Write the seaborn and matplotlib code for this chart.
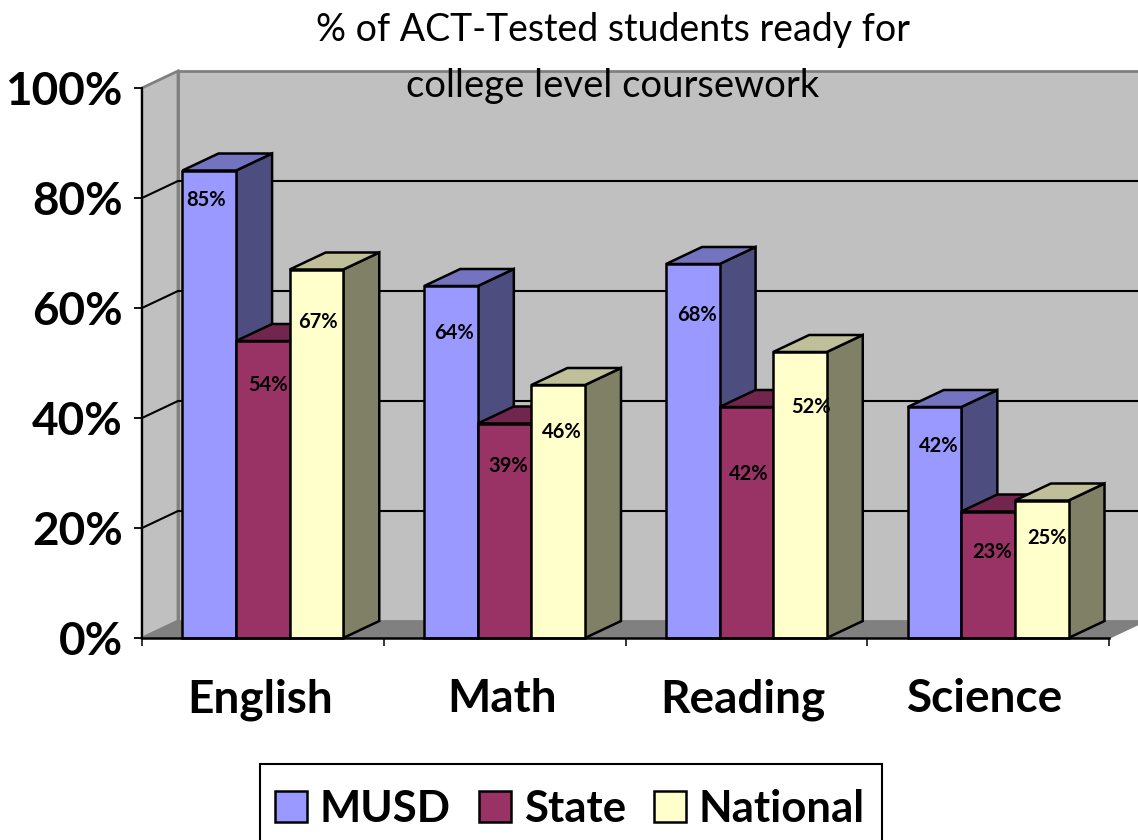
import matplotlib
matplotlib.use('Agg')
import matplotlib.pyplot as plt
from matplotlib.colors import to_rgb
from matplotlib.patches import Polygon, Rectangle
from matplotlib.transforms import ScaledTranslation
import pandas as pd
import seaborn as sns

subjects = ['English', 'Math', 'Reading', 'Science']
musd = [85, 64, 68, 42]
state = [54, 39, 42, 23]
national = [67, 46, 52, 25]
colors = ['#9999FF', '#993366', '#FFFFCC']
# label placement in pixels from the bar's top centre (row per series)
label_drop = {'MUSD': [30, 47, 51, 39], 'State': [44, 43, 67, 41], 'National': [52, 47, 55, 38]}
label_shift = {'MUSD': [-3, 3, 4, 4], 'State': [5, 4, 2, 4], 'National': [1, 4, 11, 5]}

W, H = 1138, 840
sns.set_theme(style='white')
plt.rcParams['font.family'] = ['Lato', 'DejaVu Sans']

df = pd.DataFrame({'subject': subjects, 'MUSD': musd, 'State': state, 'National': national})
df = df.melt(id_vars='subject', var_name='group', value_name='score')

fig = plt.figure(figsize=(W / 100, H / 100), dpi=100)
ax = fig.add_axes([142 / W, 1 - 638 / H, 967 / W, 550 / H])
sns.barplot(data=df, x='subject', y='score', hue='group', palette=colors, saturation=1,
            width=0.665, gap=0, edgecolor='black', linewidth=1.8, ax=ax, zorder=3)
handles, labels = ax.get_legend_handles_labels()
bars = [b for cont in ax.containers for b in cont]
ax.set_xlim(-0.5, 3.5)
ax.set_ylim(0, 100)
ax.set_xlabel('')
ax.set_ylabel('')
ax.set_facecolor('none')

# 3d depth of the Excel chart, converted to data units
dx = 36 / (967 / 4)
dy = 17 / 5.5
x0, x1 = ax.get_xlim()
grey = '#C0C0C0'
line = '#808080'

# walls and floor
ax.add_patch(Polygon([(x0 + dx, dy), (x1 + dx, dy), (x1 + dx, 100 + dy), (x0 + dx, 100 + dy)],
                     fc=grey, ec=line, lw=2, zorder=0, clip_on=False))
ax.add_patch(Polygon([(x0, 0), (x0 + dx, dy), (x0 + dx, 100 + dy), (x0, 100)],
                     fc=grey, ec=line, lw=2, zorder=0, clip_on=False))
ax.add_patch(Polygon([(x0, 0), (x1, 0), (x1 + dx, dy), (x0 + dx, dy)],
                     fc='#808080', ec='none', zorder=1, clip_on=False))
for v in [20, 40, 60, 80]:
    ax.plot([x0, x0 + dx, x1 + dx], [v, v + dy, v + dy], color='black', lw=1.5, zorder=1, clip_on=False)
ax.plot([x1, x1 + dx], [0, dy], color=line, lw=1.3, zorder=1, clip_on=False)


def shade(c, f):
    return tuple(v * f for v in to_rgb(c))


# side and top faces for every bar, left to right so nearer bars cover
for k, b in enumerate(sorted(bars, key=lambda p: p.get_x())):
    l, w, h = b.get_x(), b.get_width(), b.get_height()
    z = 3 + k * 0.1
    c = b.get_facecolor()
    b.set_zorder(z + 0.02)
    b.set_clip_on(False)
    ax.add_patch(Polygon([(l + w, 0), (l + w + dx, dy), (l + w + dx, h + dy), (l + w, h)],
                         fc=shade(c[:3], 0.5), ec='black', lw=1.8, zorder=z, clip_on=False))
    ax.add_patch(Polygon([(l, h), (l + dx, h + dy), (l + w + dx, h + dy), (l + w, h)],
                         fc=shade(c[:3], 0.75), ec='black', lw=1.8, zorder=z + 0.01, clip_on=False))

# value labels
for g, name in enumerate(['MUSD', 'State', 'National']):
    vals = [musd, state, national][g]
    for i, v in enumerate(vals):
        xpos = i + (g - 1) * 0.665 / 3
        ax.annotate(f'{v}%', (xpos, v), xytext=(label_shift[name][i] * 0.72, -label_drop[name][i] * 0.72),
                    textcoords='offset points', ha='center', va='center', fontsize=14.5, fontweight='bold',
                    color='black', zorder=10)

ax.set_yticks([0, 20, 40, 60, 80, 100], ['0%', '20%', '40%', '60%', '80%', '100%'])
ax.set_xticks([-0.5, 0.5, 1.5, 2.5, 3.5], [''] * 5)
ax.set_xticks(range(4), subjects, minor=True)
ax.tick_params(axis='y', which='major', left=True, length=6, width=1.3, color='black', pad=8,
               labelsize=33, labelcolor='black')
ax.tick_params(axis='x', which='major', bottom=True, length=6, width=1.1, color='black')
ax.tick_params(axis='x', which='minor', bottom=False, length=0, pad=29, labelsize=33, labelcolor='black')
for t in ax.get_yticklabels():
    t.set_fontweight('bold')
    t.set_verticalalignment('center_baseline')
for t in ax.get_xticklabels(minor=True):
    t.set_fontweight('bold')
    t.set_transform(t.get_transform() + ScaledTranslation(-3 / 100, 0, fig.dpi_scale_trans))
sns.despine(ax=ax, top=True, right=True)
ax.spines['left'].set_color('black')
ax.spines['left'].set_linewidth(1.5)
ax.spines['bottom'].set_color('black')
ax.spines['bottom'].set_linewidth(1.8)
ax.spines['left'].set_zorder(6)
ax.spines['bottom'].set_zorder(6)

fig.text(613 / W, 1 - 30 / H, '% of ACT-Tested students ready for', ha='center', va='center',
         fontsize=27, color='black')
fig.text(613 / W, 1 - 86 / H, 'college level coursework', ha='center', va='center',
         fontsize=27.5, color='black', zorder=20)

# legend box runs off the bottom of the picture in the original
fig.add_artist(Rectangle((260 / W, -0.02), 622 / W, 1 - 764 / H + 0.02, fc='white', ec='black', lw=1.5,
                         transform=fig.transFigure, zorder=-1))
leg = ax.legend(handles, labels, ncol=3, loc='center left', bbox_to_anchor=(275 / W, 1 - 809 / H),
                bbox_transform=fig.transFigure, frameon=False, labelcolor='black',
                prop={'size': 31.5, 'weight': 'bold'}, handlelength=0.72, handleheight=0.7,
                handletextpad=0.3, columnspacing=0.65, borderpad=0, borderaxespad=0)
leg.set_zorder(20)

fig.savefig('out.png', dpi=100, facecolor='white')
